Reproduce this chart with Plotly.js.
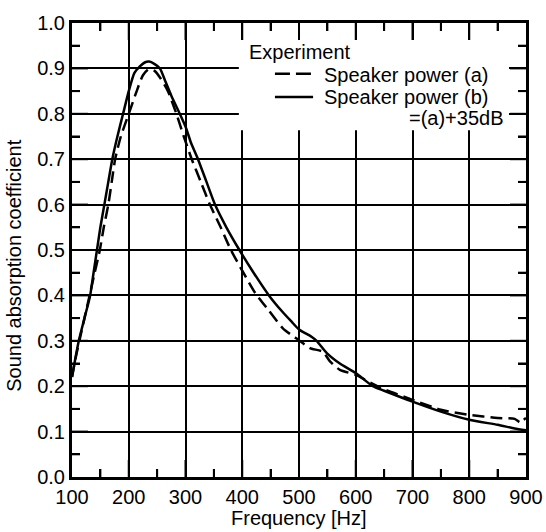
<!DOCTYPE html>
<html>
<head>
<meta charset="utf-8">
<script src="https://cdn.plot.ly/plotly-3.0.1.min.js"></script>
<style>html,body{margin:0;padding:0;background:#fff;}#chart{width:546px;height:532px;}</style>
</head>
<body>
<div id="chart"></div>
<script>
// Speaker power (a) — dashed
const freqA = [100,106,113,122,131,140,149,156,164,170,176,186,200,214,225,235,245,255,269,284,297,311,327,343,362,380,402,423,446,472,499,519,542,555,572,600,630,650,700,750,800,850,880,890,895,900];
const alphaA = [0.22,0.26,0.30,0.35,0.40,0.45,0.50,0.55,0.60,0.65,0.70,0.75,0.80,0.85,0.885,0.898,0.895,0.88,0.85,0.80,0.75,0.70,0.65,0.60,0.55,0.50,0.45,0.405,0.368,0.327,0.302,0.284,0.276,0.254,0.236,0.225,0.205,0.193,0.17,0.148,0.137,0.13,0.128,0.12,0.125,0.13];
// Speaker power (b) = (a)+35dB — solid
const freqB = [100,105,112,122,132,138,144,150,157,164,171,180,190,200,210,220,228,236,245,255,265,275,290,300,310,322,337,352,372,395,420,447,470,487,500,522,531,549,572,600,630,650,700,750,800,850,880,900];
const alphaB = [0.22,0.255,0.30,0.35,0.40,0.45,0.50,0.55,0.60,0.65,0.70,0.75,0.80,0.85,0.89,0.905,0.913,0.915,0.91,0.90,0.87,0.84,0.80,0.772,0.735,0.70,0.65,0.60,0.55,0.50,0.45,0.40,0.365,0.342,0.325,0.309,0.30,0.273,0.25,0.229,0.20,0.19,0.166,0.144,0.126,0.115,0.107,0.103];

// axis tick positions
const xMinorTicks = [150,250,350,450,550,650,750,850];
const xMajorTicks = [200,300,400,500,600,700,800];
const yMinorTicks = [0.05,0.15,0.25,0.35,0.45,0.55,0.65,0.75,0.85,0.95];
const yMajorTicks = [0.1,0.2,0.3,0.4,0.5,0.6,0.7,0.8,0.9];

const legendTitle = "Experiment";
const labelA = "Speaker power (a)";
const labelB = "Speaker power (b)";
const labelB2 = "=(a)+35dB";
const xTitle = "Frequency [Hz]";
const yTitle = "Sound absorption coefficient";

const FONT = "Liberation Sans, Arial, Helvetica, sans-serif";
const TXT = {family: FONT, size: 20, color: "#000"};
const PLOT_PX = 454; // plot area size in px (square)

const traces = [
  {x: freqA, y: alphaA, type: "scatter", mode: "lines", name: labelA,
   line: {color: "#000", width: 2.5, dash: "12px,6px", shape: "spline", smoothing: 0.6}},
  {x: freqB, y: alphaB, type: "scatter", mode: "lines", name: labelB,
   line: {color: "#000", width: 2.5, shape: "spline", smoothing: 0.6}}
];

const axisCommon = {
  showline: true, linecolor: "#000", linewidth: 3, mirror: "ticks",
  showgrid: true, gridcolor: "#000", gridwidth: 2,
  ticks: "inside", ticklen: 17, tickwidth: 2, tickcolor: "#000",
  zeroline: false,
  tickfont: TXT
};

// inward tick marks on all four sides (drawn as shapes so they sit above the legend box)
const tickShapes = [];
function xTicks(vals, lenPx) {
  const l = lenPx / PLOT_PX;
  vals.forEach(v => {
    tickShapes.push({type: "line", xref: "x", yref: "paper", x0: v, x1: v, y0: 0, y1: l, line: {color: "#000", width: 2}, layer: "above"});
    tickShapes.push({type: "line", xref: "x", yref: "paper", x0: v, x1: v, y0: 1, y1: 1 - l, line: {color: "#000", width: 2}, layer: "above"});
  });
}
function yTicks(vals, lenPx) {
  const l = lenPx / PLOT_PX;
  vals.forEach(v => {
    tickShapes.push({type: "line", xref: "paper", yref: "y", x0: 0, x1: l, y0: v, y1: v, line: {color: "#000", width: 2}, layer: "above"});
    tickShapes.push({type: "line", xref: "paper", yref: "y", x0: 1, x1: 1 - l, y0: v, y1: v, line: {color: "#000", width: 2}, layer: "above"});
  });
}
xTicks(xMinorTicks, 8);
xTicks(xMajorTicks, 17);
yTicks(yMinorTicks, 8);
yTicks(yMajorTicks, 16);

const layout = {
  width: 546, height: 532,
  margin: {l: 72, r: 20, t: 23, b: 55},
  paper_bgcolor: "#fff", plot_bgcolor: "#fff",
  showlegend: false,
  font: TXT,
  xaxis: Object.assign({}, axisCommon, {
    range: [100, 900], dtick: 100, tick0: 100,
    minor: {dtick: 50, ticks: "inside", ticklen: 8, tickwidth: 2, tickcolor: "#000", showgrid: false}
  }),
  yaxis: Object.assign({}, axisCommon, {
    range: [0, 1], dtick: 0.1, tick0: 0, tickformat: ".1f",
    minor: {dtick: 0.05, ticks: "inside", ticklen: 8, tickwidth: 2, tickcolor: "#000", showgrid: false}
  }),
  shapes: [
    {type: "rect", xref: "x", yref: "y", x0: 394, x1: 900, y0: 0.764, y1: 1,
     fillcolor: "#fff", line: {width: 0}, layer: "between"},
    {type: "line", xref: "paper", yref: "paper", x0: 0.447, x1: 0.529, y0: 0.888, y1: 0.888,
     line: {color: "#000", width: 2.5, dash: "15px,6px"}},
    {type: "line", xref: "paper", yref: "paper", x0: 0.447, x1: 0.531, y0: 0.837, y1: 0.837,
     line: {color: "#000", width: 2.5}}
  ].concat(tickShapes),
  annotations: [
    {xref: "paper", yref: "paper", x: 0.5, y: -0.0903, xanchor: "center", yanchor: "middle",
     text: xTitle, showarrow: false, font: TXT},
    {xref: "paper", yref: "paper", x: -0.128, y: 0.465, xanchor: "center", yanchor: "middle",
     text: yTitle, textangle: -90, showarrow: false, font: TXT},
    {xref: "paper", yref: "paper", x: 0.386, y: 0.936, xanchor: "left", yanchor: "middle",
     text: legendTitle, showarrow: false, font: TXT},
    {xref: "paper", yref: "paper", x: 0.55, y: 0.886, xanchor: "left", yanchor: "middle",
     text: labelA, showarrow: false, font: TXT},
    {xref: "paper", yref: "paper", x: 0.55, y: 0.837, xanchor: "left", yanchor: "middle",
     text: labelB, showarrow: false, font: TXT},
    {xref: "paper", yref: "paper", x: 0.955, y: 0.791, xanchor: "right", yanchor: "middle",
     text: labelB2, showarrow: false, font: TXT}
  ]
};

Plotly.newPlot("chart", traces, layout, {displayModeBar: false, staticPlot: true});
</script>
</body>
</html>
